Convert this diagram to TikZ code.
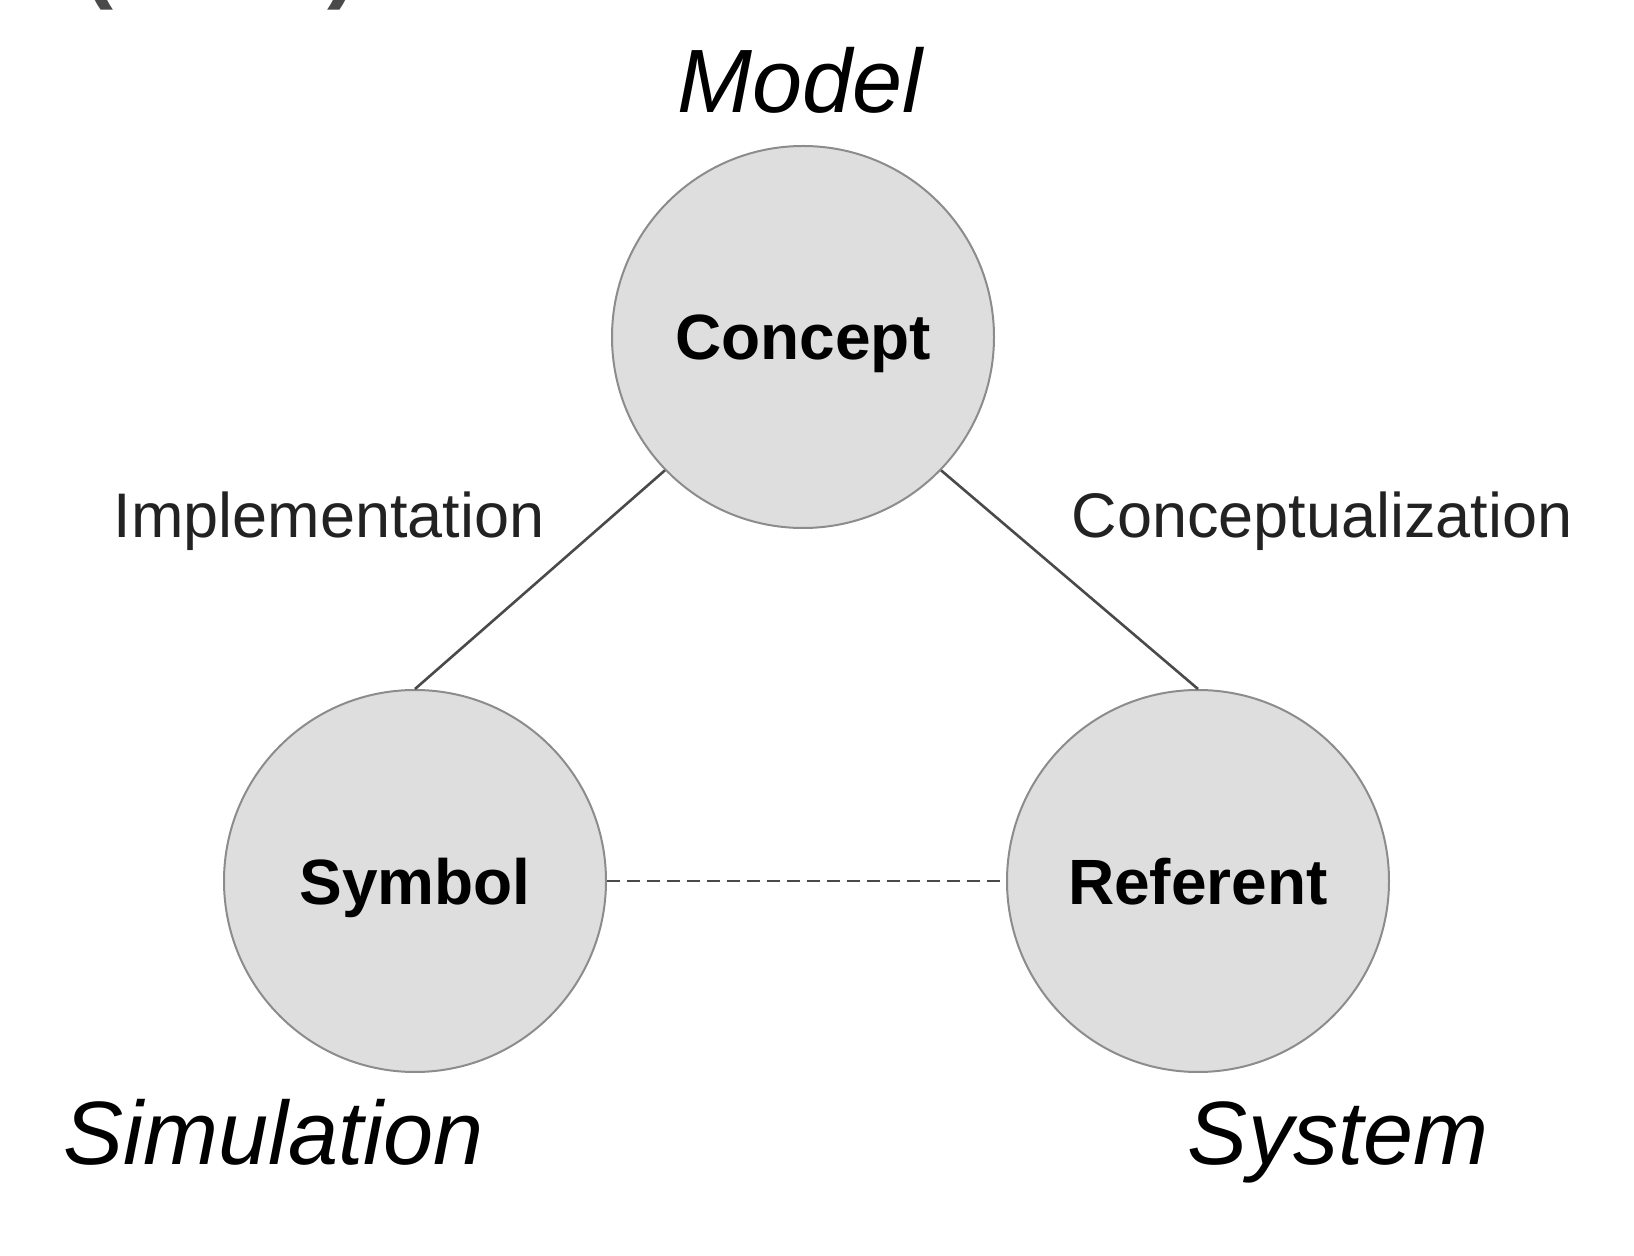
\documentclass[tikz,border=0pt]{standalone}
\usepackage{fontspec}
\setmainfont{Liberation Sans}
\usetikzlibrary{positioning}

\definecolor{fillgray}{HTML}{DEDEDE}
\definecolor{circgray}{HTML}{8C8C8C}
\definecolor{linegray}{HTML}{4A4A4A}
\definecolor{labelgray}{HTML}{222222}

\tikzset{
  term/.style={circle, draw=circgray, fill=fillgray, line width=1pt, minimum size=191pt, inner sep=0pt,
    font=\fontsize{32}{38}\selectfont\bfseries, text height=23pt, text depth=0pt},
  relation/.style={font=\fontsize{31.5}{38}\selectfont, text=labelgray, inner sep=0pt, anchor=base},
  realm/.style={font=\fontsize{45}{54}\selectfont\itshape, inner sep=0pt, anchor=base},
  link/.style={draw=linegray, line width=1.3pt},
}

\begin{document}
\begin{tikzpicture}[x=0.5pt,y=0.5pt,yscale=-1,xscale=1]
\useasboundingbox (0,0) rectangle (1634,1256);
% Text Node (cut off at the top)
\node[anchor=base west, inner sep=0pt, font=\fontsize{45}{54}\selectfont\bfseries, text=linegray] (heading) at (83,-8) {(\hspace{107pt})};
%Shape: Circle
\node[term] (concept) at (803,337) {Concept};
%Shape: Circle
\node[term] (symbol) at (415,881) {Symbol};
%Shape: Circle
\node[term] (referent) at (1198,881) {Referent};
%Straight Lines
\draw[link] (concept.224) -- (symbol.north);
\draw[link] (concept.316) -- (referent.north);
\draw[draw=linegray, line width=1pt, dash pattern=on 6.5pt off 3.5pt] (symbol.east) -- (referent.west);
% Text Node
\node[realm] (model) at (800,113) {Model};
\node[realm] (simulation) at (274,1164) {Simulation};
\node[realm] (system) at (1338,1164) {System};
\node[relation] (implementation) at (329,538) {Implementation};
\node[relation] (conceptualization) at (1322,538) {Conceptualization};
\end{tikzpicture}
\end{document}
